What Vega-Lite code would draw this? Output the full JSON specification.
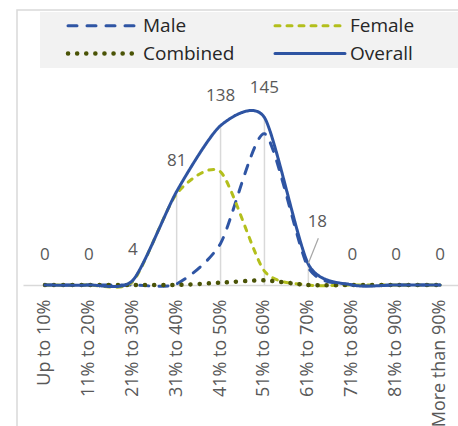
{
  "$schema": "https://vega.github.io/schema/vega-lite/v6.json",
  "width": 460,
  "height": 430,
  "autosize": {"type": "none"},
  "padding": {"left": 17, "top": 10, "right": 0, "bottom": 0},
  "background": "white",
  "config": {
    "view": {"stroke": "#d9d9d9", "strokeWidth": 1.5},
    "font": "Open Sans",
    "legend": {
      "orient": "none",
      "legendX": 23,
      "legendY": 2,
      "direction": "horizontal",
      "columns": 2,
      "fillColor": "#f2f2f2",
      "padding": 4,
      "symbolType": "M-2,0H12",
      "symbolSize": 100,
      "symbolOffset": 24.5,
      "labelFont": "Open Sans",
      "labelFontSize": 19,
      "labelColor": "#262626",
      "labelOffset": 55.5,
      "columnPadding": 16,
      "rowPadding": 8,
      "labelLimit": 400,
      "titleOrient": "right",
      "titlePadding": 42,
      "titleFontSize": 10
    }
  },
  "datasets": {
    "d": [
      {"cat": "Up to 10%", "series": "Male", "value": 0},
      {"cat": "11% to 20%", "series": "Male", "value": 0},
      {"cat": "21% to 30%", "series": "Male", "value": 0},
      {"cat": "31% to 40%", "series": "Male", "value": 1},
      {"cat": "41% to 50%", "series": "Male", "value": 36},
      {"cat": "51% to 60%", "series": "Male", "value": 131},
      {"cat": "61% to 70%", "series": "Male", "value": 15},
      {"cat": "71% to 80%", "series": "Male", "value": 0},
      {"cat": "81% to 90%", "series": "Male", "value": 0},
      {"cat": "More than 90%", "series": "Male", "value": 0},
      {"cat": "Up to 10%", "series": "Female", "value": 0},
      {"cat": "11% to 20%", "series": "Female", "value": 0},
      {"cat": "21% to 30%", "series": "Female", "value": 3},
      {"cat": "31% to 40%", "series": "Female", "value": 79},
      {"cat": "41% to 50%", "series": "Female", "value": 98},
      {"cat": "51% to 60%", "series": "Female", "value": 12},
      {"cat": "61% to 70%", "series": "Female", "value": 0},
      {"cat": "71% to 80%", "series": "Female", "value": 0},
      {"cat": "81% to 90%", "series": "Female", "value": 0},
      {"cat": "More than 90%", "series": "Female", "value": 0},
      {"cat": "Up to 10%", "series": "Combined", "value": 0},
      {"cat": "11% to 20%", "series": "Combined", "value": 0},
      {"cat": "21% to 30%", "series": "Combined", "value": 0},
      {"cat": "31% to 40%", "series": "Combined", "value": 0},
      {"cat": "41% to 50%", "series": "Combined", "value": 2},
      {"cat": "51% to 60%", "series": "Combined", "value": 4},
      {"cat": "61% to 70%", "series": "Combined", "value": 0},
      {"cat": "71% to 80%", "series": "Combined", "value": 0},
      {"cat": "81% to 90%", "series": "Combined", "value": 0},
      {"cat": "More than 90%", "series": "Combined", "value": 0},
      {"cat": "Up to 10%", "series": "Overall", "value": 0},
      {"cat": "11% to 20%", "series": "Overall", "value": 0},
      {"cat": "21% to 30%", "series": "Overall", "value": 4},
      {"cat": "31% to 40%", "series": "Overall", "value": 81},
      {"cat": "41% to 50%", "series": "Overall", "value": 138},
      {"cat": "51% to 60%", "series": "Overall", "value": 145},
      {"cat": "61% to 70%", "series": "Overall", "value": 18},
      {"cat": "71% to 80%", "series": "Overall", "value": 0},
      {"cat": "81% to 90%", "series": "Overall", "value": 0},
      {"cat": "More than 90%", "series": "Overall", "value": 0}
    ]
  },
  "data": {"name": "d"},
  "encoding": {
    "x": {
      "field": "cat",
      "type": "nominal",
      "sort": null,
      "scale": {
        "type": "band",
        "domain": ["Up to 10%", "11% to 20%", "21% to 30%", "31% to 40%", "41% to 50%", "51% to 60%", "61% to 70%", "71% to 80%", "81% to 90%", "More than 90%"],
        "range": [6, 445],
        "paddingInner": 0,
        "paddingOuter": 0
      },
      "axis": {
        "title": null,
        "orient": "bottom",
        "offset": -155,
        "domainColor": "#d9d9d9",
        "domainWidth": 1.5,
        "ticks": false,
        "grid": false,
        "labelAngle": -90,
        "labelAlign": "right",
        "labelBaseline": "middle",
        "labelPadding": 14,
        "labelFont": "Open Sans",
        "labelFontSize": 18,
        "labelColor": "#595959",
        "labelOverlap": false,
        "labelFlush": false,
        "labelBound": false,
        "labelLimit": 300
      }
    },
    "y": {
      "field": "value",
      "type": "quantitative",
      "scale": {"domain": [-134.2, 238.1], "nice": false, "zero": false},
      "axis": null
    }
  },
  "layer": [
    {
      "transform": [{"filter": "datum.series === 'Overall'"}],
      "mark": {"type": "rule", "color": "#d9d9d9", "strokeWidth": 1.5},
      "encoding": {"y2": {"datum": 0}}
    },
    {
      "mark": {"type": "line", "interpolate": "cardinal", "tension": 0.3, "strokeCap": "round", "strokeJoin": "round"},
      "encoding": {
        "color": {
          "field": "series",
          "type": "nominal",
          "sort": null,
          "scale": {"domain": ["Male", "Female", "Combined", "Overall"], "range": ["#2f55a4", "#b3bf1c", "#4a5306", "#2e54a2"]},
          "legend": {
            "title": "\u00a0",
            "encode": {"symbols": {"update": {"strokeCap": {"value": "round"}}}}
          }
        },
        "strokeDash": {
          "field": "series",
          "type": "nominal",
          "sort": null,
          "scale": {"domain": ["Male", "Female", "Combined", "Overall"], "range": [[9, 10], [5, 7], [0.1, 9], [1, 0]]},
          "legend": {
            "title": "\u00a0",
            "encode": {"symbols": {"update": {"strokeCap": {"value": "round"}}}}
          }
        },
        "strokeWidth": {
          "field": "series",
          "type": "nominal",
          "sort": null,
          "scale": {"type": "ordinal", "domain": ["Male", "Female", "Combined", "Overall"], "range": [3, 3, 4.5, 3]},
          "legend": {
            "title": "\u00a0",
            "encode": {"symbols": {"update": {"strokeCap": {"value": "round"}}}}
          }
        }
      }
    },
    {
      "transform": [{"filter": "datum.series === 'Overall' && datum.cat !== '61% to 70%'"}],
      "mark": {"type": "text", "dy": -30, "fontSize": 17, "color": "#595959", "baseline": "middle", "font": "Open Sans"},
      "encoding": {"text": {"field": "value", "type": "quantitative"}}
    },
    {
      "transform": [{"filter": "datum.series === 'Overall' && datum.cat === '61% to 70%'"}],
      "mark": {"type": "text", "dx": 9, "dy": -42, "fontSize": 17, "color": "#595959", "baseline": "middle", "font": "Open Sans"},
      "encoding": {"text": {"field": "value", "type": "quantitative"}}
    },
    {
      "transform": [{"filter": "datum.series === 'Overall' && datum.cat === '61% to 70%'"}],
      "mark": {"type": "rule", "color": "#a6a6a6", "strokeWidth": 1.2, "xOffset": 10, "yOffset": -26, "x2Offset": 0, "y2Offset": -1},
      "encoding": {"x2": {"field": "cat", "bandPosition": 0.5}, "y2": {"field": "value"}}
    }
  ]
}
